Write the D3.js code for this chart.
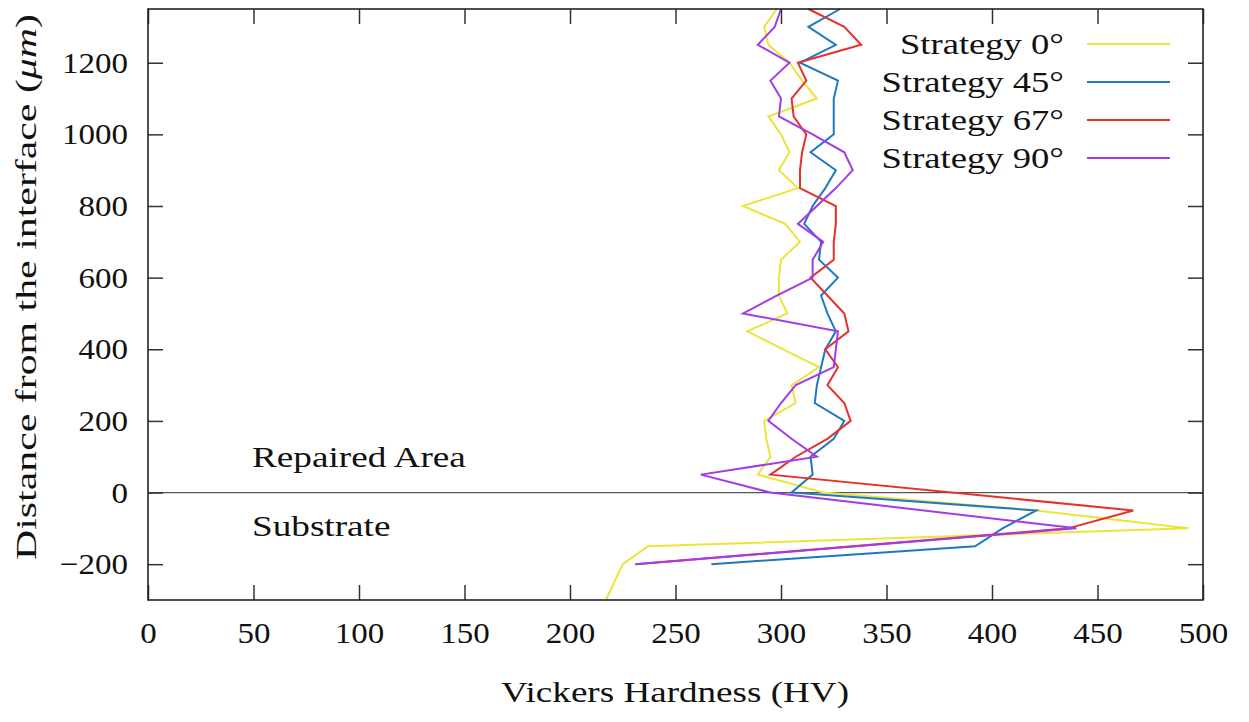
<!DOCTYPE html>
<html>
<head>
<meta charset="utf-8">
<script src="https://cdn.jsdelivr.net/npm/d3@7"></script>
<style>
  body { margin: 0; background: #fff; }
  svg text { font-family: "Liberation Serif", "Tinos", "Times New Roman", serif; fill: #111; }
</style>
</head>
<body>
<svg id="chart" width="1249" height="722"></svg>
<script>
// hardness profiles, depth in micrometres (positive = repaired area)
const upperDepths = [1350, 1300, 1250, 1200, 1150, 1100, 1050, 1000, 950, 900, 850, 800, 750, 700,
                     650, 600, 550, 500, 450, 400, 350, 300, 250, 200, 150, 100, 50];

const depth0  = upperDepths.concat([0, -50, -100, -150, -200, -300]);
const hv0     = [298, 292, 294, 304, 310, 317, 294, 300, 304, 299, 308, 282, 302, 309,
                 300, 299, 299, 303, 284, 301, 318, 305, 307, 292, 293, 295, 289,
                 320, 421, 493, 237, 225, 217];

const depth45 = upperDepths.concat([0, -50, -100, -150, -200]);
const hv45    = [328, 313, 326, 309, 327, 325, 325, 325, 314, 326, 321, 315, 311, 319,
                 318, 327, 319, 322, 326, 321, 319, 317, 316, 330, 325, 314, 315,
                 305, 421, 405, 392, 267];

const depth67 = upperDepths.concat([-50, -100, -200]);
const hv67    = [313, 330, 338, 308, 312, 305, 306, 312, 310, 309, 309, 326, 326, 325,
                 325, 314, 322, 330, 332, 321, 327, 322, 330, 333, 322, 307, 295,
                 467, 436, 231];

const depth90 = upperDepths.concat([0, -100, -200]);
const hv90    = [300, 297, 289, 304, 295, 300, 299, 315, 330, 334, 326, 317, 308, 320,
                 315, 315, 298, 282, 327, 326, 325, 307, 300, 294, 305, 317, 262,
                 295, 440, 231];

const seriesNames  = ["Strategy 0°", "Strategy 45°", "Strategy 67°", "Strategy 90°"];
const seriesColors = ["#ece43a", "#1f79c0", "#e5302b", "#a43be6"];
const seriesDepths = [depth0, depth45, depth67, depth90];
const seriesHV     = [hv0, hv45, hv67, hv90];

const xTicks = [0, 50, 100, 150, 200, 250, 300, 350, 400, 450, 500];
const yTicks = [-200, 0, 200, 400, 600, 800, 1000, 1200];

const svg = d3.select("#chart");
const plotL = 148, plotR = 1203, plotT = 9, plotB = 600;

const x = d3.scaleLinear().domain([0, 500]).range([plotL, plotR]);
const y = d3.scaleLinear().domain([-300, 1350]).range([plotB, plotT]);

// stretch text a bit wider, the original font runs wide
function widen(sel, k) {
    sel.each(function() {
        const w = this.getComputedTextLength();
        d3.select(this).attr("textLength", w * k).attr("lengthAdjust", "spacingAndGlyphs");
    });
}

// interface line
svg.append("line")
    .attr("x1", plotL).attr("x2", plotR)
    .attr("y1", y(0)).attr("y2", y(0))
    .attr("stroke", "#555").attr("stroke-width", 1.3);

// series
const line = d3.line().x(d => x(d[1])).y(d => y(d[0]));
seriesNames.forEach((name, i) => {
    const pts = seriesDepths[i].map((dd, j) => [dd, seriesHV[i][j]]);
    svg.append("path")
        .datum(pts)
        .attr("fill", "none")
        .attr("stroke", seriesColors[i])
        .attr("stroke-width", 2)
        .attr("stroke-linejoin", "miter")
        .attr("d", line);
});

// axes, ticks pointing inwards on all four sides
const axisFont = 30;
const gx = svg.append("g").attr("transform", `translate(0,${plotB})`)
    .call(d3.axisBottom(x).tickValues(xTicks).tickSizeInner(-15).tickSizeOuter(0).tickPadding(22));
const gy = svg.append("g").attr("transform", `translate(${plotL},0)`)
    .call(d3.axisLeft(y).tickValues(yTicks).tickSizeInner(-15).tickSizeOuter(0).tickPadding(20)
        .tickFormat(d => d < 0 ? "\u2212" + Math.abs(d) : d));
const gt = svg.append("g").attr("transform", `translate(0,${plotT})`)
    .call(d3.axisTop(x).tickValues(xTicks).tickSizeInner(-15).tickSizeOuter(0).tickFormat(""));
const gr = svg.append("g").attr("transform", `translate(${plotR},0)`)
    .call(d3.axisRight(y).tickValues(yTicks).tickSizeInner(-15).tickSizeOuter(0).tickFormat(""));

[gx, gy, gt, gr].forEach(g => {
    g.attr("font-family", null);
    g.select(".domain").remove();
    g.selectAll(".tick line").attr("stroke", "#333").attr("stroke-width", 1.5);
    g.selectAll("text")
        .attr("font-size", axisFont)
        .attr("fill", "#111");
});
widen(gx.selectAll("text"), 1.1);
widen(gy.selectAll("text"), 1.1);

// frame
svg.append("rect")
    .attr("x", plotL).attr("y", plotT)
    .attr("width", plotR - plotL).attr("height", plotB - plotT)
    .attr("fill", "none").attr("stroke", "#222").attr("stroke-width", 1.6);

// area labels
svg.append("text").attr("x", 252).attr("y", 467).attr("font-size", 30)
    .text("Repaired Area").call(widen, 1.24);
svg.append("text").attr("x", 252).attr("y", 536).attr("font-size", 30)
    .text("Substrate").call(widen, 1.24);

// axis titles
svg.append("text")
    .attr("x", 675).attr("y", 702)
    .attr("text-anchor", "middle").attr("font-size", 30)
    .attr("textLength", 348).attr("lengthAdjust", "spacingAndGlyphs")
    .text("Vickers Hardness (HV)");

const yl = svg.append("text")
    .attr("transform", "translate(36,287) rotate(-90)")
    .attr("text-anchor", "middle").attr("font-size", 30)
    .attr("textLength", 546).attr("lengthAdjust", "spacingAndGlyphs");
yl.append("tspan").text("Distance from the interface (");
yl.append("tspan").attr("font-style", "italic").text("\u03bcm");
yl.append("tspan").text(")");

// legend
const legend = svg.append("g");
seriesNames.forEach((name, i) => {
    const ly = 44 + i * 38;
    legend.append("line")
        .attr("x1", 1087).attr("x2", 1170)
        .attr("y1", ly).attr("y2", ly)
        .attr("stroke", seriesColors[i]).attr("stroke-width", 2);
    legend.append("text")
        .attr("x", 1064).attr("y", ly + 10)
        .attr("text-anchor", "end").attr("font-size", 30)
        .text(name).call(widen, 1.22);
});
</script>
</body>
</html>
